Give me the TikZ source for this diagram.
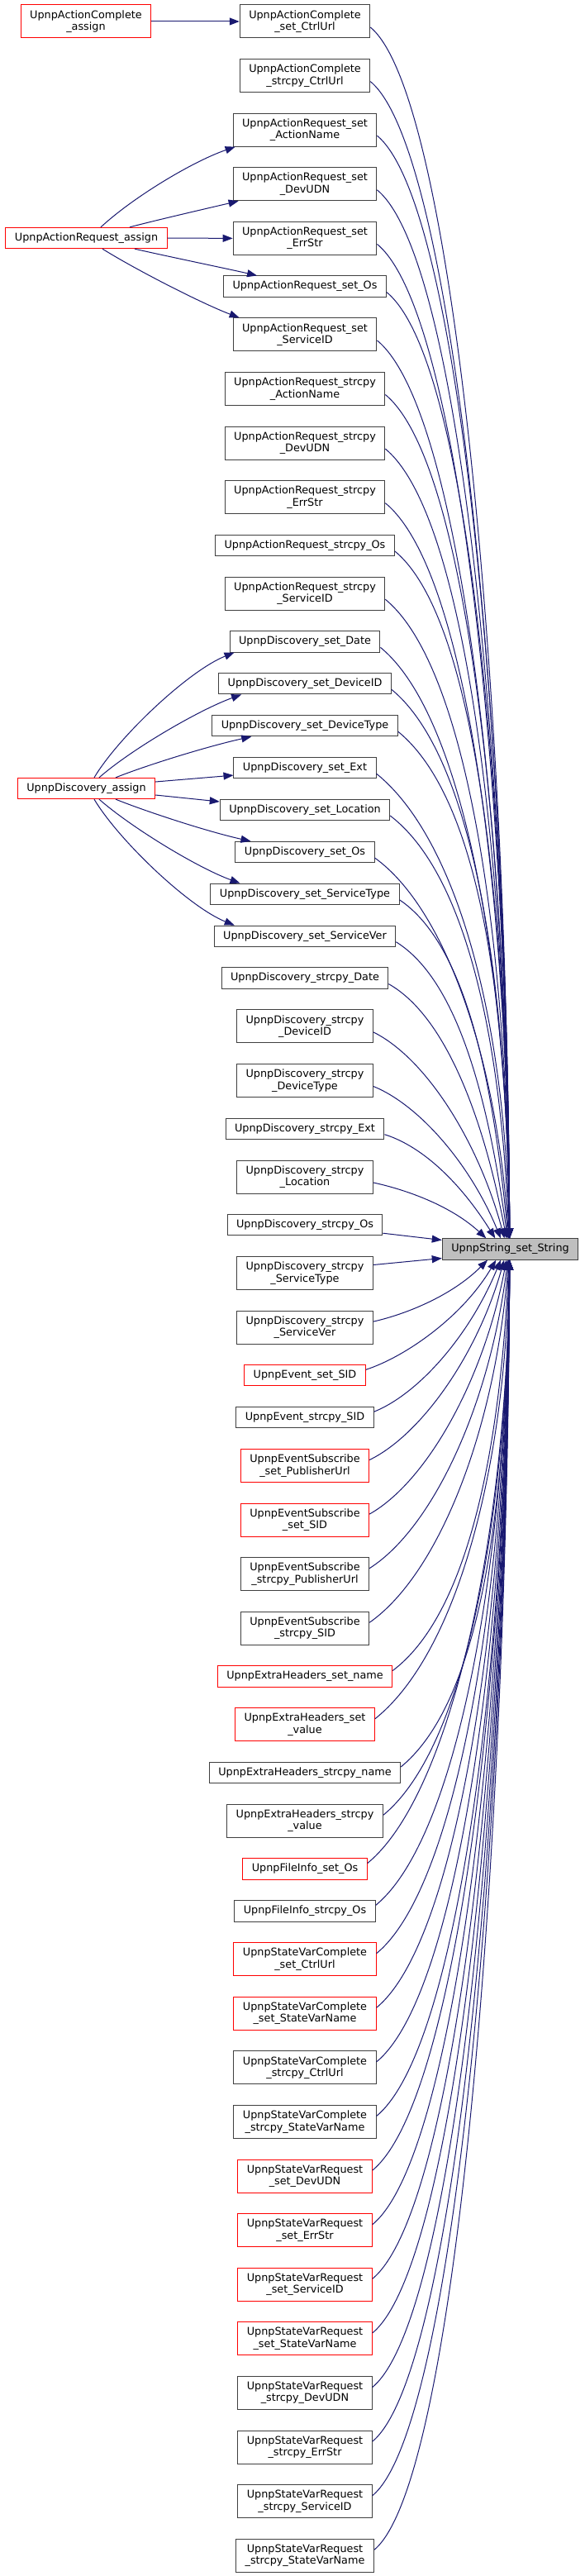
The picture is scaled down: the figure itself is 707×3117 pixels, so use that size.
\documentclass[tikz,border=0pt]{standalone}
\usepackage{fontspec}
\setmainfont{DejaVu Sans}
\usepackage{tikz}
\usetikzlibrary{arrows.meta}
\definecolor{mblue}{HTML}{191970}
\definecolor{grey25}{HTML}{404040}
\definecolor{grey75}{HTML}{BFBFBF}
\tikzset{
fn/.style={draw=grey25,line width=1pt,fill=white,inner xsep=11pt,inner ysep=0pt,minimum height=25.3pt,align=center,font=\fontsize{12.8}{14.4}\selectfont},
fntwo/.style={fn,minimum height=40pt},
fnred/.style={fn,draw=red},
fnredtwo/.style={fntwo,draw=red},
call/.style={draw=mblue,line width=1pt,-{Triangle[length=12pt,width=9pt]}}
}
\begin{document}
\begin{tikzpicture}[x=1pt,y=-1pt]
\path[fill=white](0,0) rectangle (707,3117);
\node[fn,fill=grey75](str) at (617.5,1511.5){UpnpString\_set\_String};
\node[fnredtwo](acassign) at (104,26){UpnpActionComplete\\\_assign};
\node[fnred](arassign) at (104.5,288){UpnpActionRequest\_assign};
\node[fnred](dassign) at (104.5,954){UpnpDiscovery\_assign};
% callers of UpnpString_set_String
\foreach \n/\yc/\sty/\lbl in {
acsetctrl/26/fntwo/UpnpActionComplete\\\_set\_CtrlUrl,
accpyctrl/91.6/fntwo/UpnpActionComplete\\\_strcpy\_CtrlUrl,
arsetname/157.2/fntwo/UpnpActionRequest\_set\\\_ActionName,
arsetudn/222.8/fntwo/UpnpActionRequest\_set\\\_DevUDN,
arseterr/288.4/fntwo/UpnpActionRequest\_set\\\_ErrStr,
arsetos/346.6/fn/UpnpActionRequest\_set\_Os,
arsetsid/404.9/fntwo/UpnpActionRequest\_set\\\_ServiceID,
arcpyname/470.5/fntwo/UpnpActionRequest\_strcpy\\\_ActionName,
arcpyudn/536.1/fntwo/UpnpActionRequest\_strcpy\\\_DevUDN,
arcpyerr/601.7/fntwo/UpnpActionRequest\_strcpy\\\_ErrStr,
arcpyos/660/fn/UpnpActionRequest\_strcpy\_Os,
arcpysid/718.2/fntwo/UpnpActionRequest\_strcpy\\\_ServiceID,
dsetdate/776.4/fn/UpnpDiscovery\_set\_Date,
dsetdid/827.3/fn/UpnpDiscovery\_set\_DeviceID,
dsetdtype/878.2/fn/UpnpDiscovery\_set\_DeviceType,
dsetext/929.1/fn/UpnpDiscovery\_set\_Ext,
dsetloc/980/fn/UpnpDiscovery\_set\_Location,
dsetos/1031/fn/UpnpDiscovery\_set\_Os,
dsetstype/1081.8/fn/UpnpDiscovery\_set\_ServiceType,
dsetsver/1132.7/fn/UpnpDiscovery\_set\_ServiceVer,
dcpydate/1183.6/fn/UpnpDiscovery\_strcpy\_Date,
dcpydid/1241.9/fntwo/UpnpDiscovery\_strcpy\\\_DeviceID,
dcpydtype/1307.5/fntwo/UpnpDiscovery\_strcpy\\\_DeviceType,
dcpyext/1365.7/fn/UpnpDiscovery\_strcpy\_Ext,
dcpyloc/1424/fntwo/UpnpDiscovery\_strcpy\\\_Location,
dcpyos/1482.2/fn/UpnpDiscovery\_strcpy\_Os,
dcpystype/1540.5/fntwo/UpnpDiscovery\_strcpy\\\_ServiceType,
dcpysver/1606.1/fntwo/UpnpDiscovery\_strcpy\\\_ServiceVer,
esetsid/1664.3/fnred/UpnpEvent\_set\_SID,
ecpysid/1715.2/fn/UpnpEvent\_strcpy\_SID,
essetpub/1773.5/fnredtwo/UpnpEventSubscribe\\\_set\_PublisherUrl,
essetsid/1839.1/fnredtwo/UpnpEventSubscribe\\\_set\_SID,
escpypub/1904.7/fntwo/UpnpEventSubscribe\\\_strcpy\_PublisherUrl,
escpysid/1970.3/fntwo/UpnpEventSubscribe\\\_strcpy\_SID,
ehsetname/2028.5/fnred/UpnpExtraHeaders\_set\_name,
ehsetval/2086.8/fnredtwo/UpnpExtraHeaders\_set\\\_value,
ehcpyname/2145/fn/UpnpExtraHeaders\_strcpy\_name,
ehcpyval/2203.3/fntwo/UpnpExtraHeaders\_strcpy\\\_value,
fisetos/2261.5/fnred/UpnpFileInfo\_set\_Os,
ficpyos/2312.4/fn/UpnpFileInfo\_strcpy\_Os,
svcsetctrl/2370.7/fnredtwo/UpnpStateVarComplete\\\_set\_CtrlUrl,
svcsetname/2436.3/fnredtwo/UpnpStateVarComplete\\\_set\_StateVarName,
svccpyctrl/2501.9/fntwo/UpnpStateVarComplete\\\_strcpy\_CtrlUrl,
svccpyname/2567.5/fntwo/UpnpStateVarComplete\\\_strcpy\_StateVarName,
svrsetudn/2633.1/fnredtwo/UpnpStateVarRequest\\\_set\_DevUDN,
svrseterr/2698.7/fnredtwo/UpnpStateVarRequest\\\_set\_ErrStr,
svrsetsid/2764.3/fnredtwo/UpnpStateVarRequest\\\_set\_ServiceID,
svrsetname/2829.9/fnredtwo/UpnpStateVarRequest\\\_set\_StateVarName,
svrcpyudn/2895.5/fntwo/UpnpStateVarRequest\\\_strcpy\_DevUDN,
svrcpyerr/2961.1/fntwo/UpnpStateVarRequest\\\_strcpy\_ErrStr,
svrcpysid/3026.7/fntwo/UpnpStateVarRequest\\\_strcpy\_ServiceID,
svrcpyname/3092.3/fntwo/UpnpStateVarRequest\\\_strcpy\_StateVarName}{
\node[\sty](\n) at (369,\yc){\lbl};
\pgfmathsetmacro\dist{abs(\yc-1511.5)}
\pgfmathtruncatemacro\sg{\yc<1511.5 ? 1 : -1}
\ifdim\dist pt<50pt
\pgfmathsetmacro\ys{-10*\sg}
\pgfmathsetmacro\yt{11*\sg}
\draw[call]([yshift=\ys pt]\n.east)--([yshift=\yt pt]str.west);
\else
\pgfmathsetmacro\gf{min(1,\dist/600)}
\pgfmathsetmacro\off{82-28*exp(-(\dist-89)/120)}
\pgfmathsetmacro\ys{-7*\sg}
\pgfmathsetmacro\ax{30+70*\gf}
\pgfmathsetmacro\ay{\sg*(80*\gf^1.3+2)}
\pgfmathsetmacro\bx{-0.35*(\off+79)*(1-\gf)-3}
\pgfmathsetmacro\by{-0.45*\dist*\sg}
\ifnum\sg>0 \def\anc{north west}\else\def\anc{south west}\fi
\draw[call]([yshift=\ys pt]\n.east) .. controls +(\ax,\ay) and +(\bx,\by) .. ([xshift=\off pt]str.\anc);
\fi
}
% assign functions
\draw[call](acassign)--(acsetctrl);
\draw[call]([xshift=17.5pt]arassign.north) .. controls +(40,-37) and +(-50,17) .. ([xshift=3pt]arsetname.south west);
\draw[call]([xshift=52.5pt]arassign.north) .. controls +(30,-8) and +(-30,7) .. ([xshift=7pt]arsetudn.south west);
\draw[call](arassign.east)--(arseterr.west);
\draw[call]([xshift=58.5pt]arassign.south) .. controls +(30,7) and +(-30,-7) .. ([xshift=41pt]arsetos.north west);
\draw[call]([xshift=19.5pt]arassign.south) .. controls +(40,25) and +(-45,-17) .. ([xshift=8pt]arsetsid.north west);
\draw[call]([xshift=9.5pt]dassign.north) .. controls +(30,-50) and +(-55,22) .. ([xshift=6pt]dsetdate.south west);
\draw[call]([xshift=15.5pt]dassign.north) .. controls +(40,-35) and +(-50,18) .. ([xshift=28pt]dsetdid.south west);
\draw[call]([xshift=35.5pt]dassign.north) .. controls +(40,-16) and +(-50,11) .. ([xshift=48pt]dsetdtype.south west);
\draw[call]([yshift=8pt]dassign.east)--([yshift=-9pt]dsetext.west);
\draw[call]([yshift=-8pt]dassign.east)--([yshift=10pt]dsetloc.west);
\draw[call]([xshift=35.5pt]dassign.south) .. controls +(40,16) and +(-50,-11) .. ([xshift=19pt]dsetos.north west);
\draw[call]([xshift=15.5pt]dassign.south) .. controls +(40,35) and +(-50,-18) .. ([xshift=36pt]dsetstype.north west);
\draw[call]([xshift=9.5pt]dassign.south) .. controls +(30,50) and +(-55,-22) .. ([xshift=25pt]dsetsver.north west);
\end{tikzpicture}
\end{document}
